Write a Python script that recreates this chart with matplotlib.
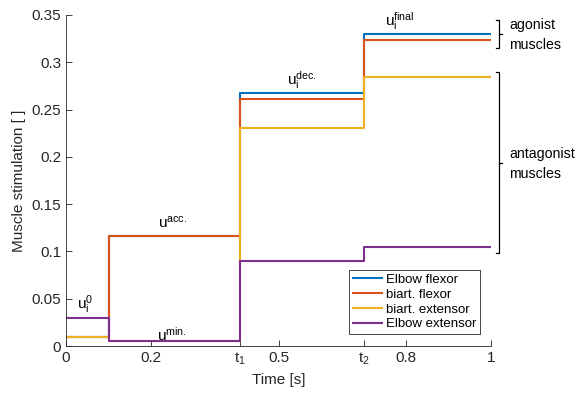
import matplotlib
matplotlib.use('Agg')
import matplotlib.pyplot as plt

plt.rcParams['font.family'] = ['Liberation Sans', 'DejaVu Sans']
plt.rcParams['mathtext.fontset'] = 'custom'
plt.rcParams['mathtext.rm'] = 'Liberation Sans'
plt.rcParams['mathtext.it'] = 'Liberation Sans'

# phase boundaries (s)
t_edges = [0, 0.1, 0.41, 0.7, 1.0]

# stimulation level in each phase
elbow_flexor = [0.01, 0.116, 0.267, 0.330]
biart_flexor = [0.01, 0.116, 0.261, 0.3235]
biart_extensor = [0.01, 0.005, 0.23, 0.2845]
elbow_extensor = [0.03, 0.005, 0.09, 0.1047]

names = ['Elbow flexor', 'biart. flexor', 'biart. extensor', 'Elbow extensor']
colors = ['#0072BD', '#D95319', '#EDB120', '#7E2F8E']

xticks = [0, 0.2, 0.41, 0.5, 0.7, 0.8, 1]
xticklabels = ['0', '0.2', '$t_1$', '0.5', '$t_2$', '0.8', '1']
yticks = [0, 0.05, 0.1, 0.15, 0.2, 0.25, 0.3, 0.35]
yticklabels = ['0', '0.05', '0.1', '0.15', '0.2', '0.25', '0.3', '0.35']

fig = plt.figure(figsize=(5.76, 3.96), dpi=100)
ax = fig.add_axes([66/576, 1-346/396, 425/576, 331/396])

for vals, color, name in zip([elbow_flexor, biart_flexor, biart_extensor, elbow_extensor], colors, names):
    ax.plot(t_edges, vals + [vals[-1]], drawstyle='steps-post', color=color, lw=1.5, label=name)

ax.set_xlim(0, 1)
ax.set_ylim(0, 0.35)
ax.set_xticks(xticks)
ax.set_xticklabels(xticklabels)
ax.set_yticks(yticks)
ax.set_yticklabels(yticklabels)
ax.spines['top'].set_visible(False)
ax.spines['right'].set_visible(False)
for s in ['left', 'bottom']:
    ax.spines[s].set_color('#262626')
    ax.spines[s].set_linewidth(0.6)
ax.tick_params(direction='in', length=4, width=0.6, colors='#262626', labelsize=11)
ax.set_xlabel('Time [s]', fontsize=11, color='#262626')
ax.set_ylabel('Muscle stimulation [ ]', fontsize=11, color='#262626')

# phase labels
fs = 11
ax.text(0.045, 0.044, r'$\mathrm{u_i^0}$', ha='center', va='center', fontsize=fs)
ax.text(0.25, 0.13, r'$\mathrm{u^{acc.}}$', ha='center', va='center', fontsize=fs)
ax.text(0.25, 0.012, r'$\mathrm{u^{min.}}$', ha='center', va='center', fontsize=fs)
ax.text(0.555, 0.281, r'$\mathrm{u_i^{dec.}}$', ha='center', va='center', fontsize=fs)
ax.text(0.785, 0.344, r'$\mathrm{u_i^{final}}$', ha='center', va='center', fontsize=fs)

# braces on the right
def brace(y0, y1, x=1.019, h=0.007):
    ym = (y0 + y1) / 2
    kw = dict(color='black', lw=0.9, clip_on=False)
    ax.plot([x - h, x, x, x - h], [y1, y1, y0, y0], **kw)
    ax.plot([x, x + h], [ym, ym], **kw)

brace(0.315, 0.3446)
brace(0.0983, 0.2897)
bfs = 10.2
ax.text(1.043, 0.3395, 'agonist', ha='left', va='center', fontsize=bfs, clip_on=False)
ax.text(1.043, 0.3185, 'muscles', ha='left', va='center', fontsize=bfs, clip_on=False)
ax.text(1.043, 0.2025, 'antagonist', ha='left', va='center', fontsize=bfs, clip_on=False)
ax.text(1.043, 0.1815, 'muscles', ha='left', va='center', fontsize=bfs, clip_on=False)

leg = ax.legend(loc='lower right', bbox_to_anchor=(0.99, 0.015), fontsize=9.5,
                handlelength=2.2, handletextpad=0.3, borderpad=0.3,
                labelspacing=0.2, fancybox=False, framealpha=1)
leg.get_frame().set_edgecolor('#262626')
leg.get_frame().set_linewidth(0.6)

fig.savefig('out.png', dpi=100)
